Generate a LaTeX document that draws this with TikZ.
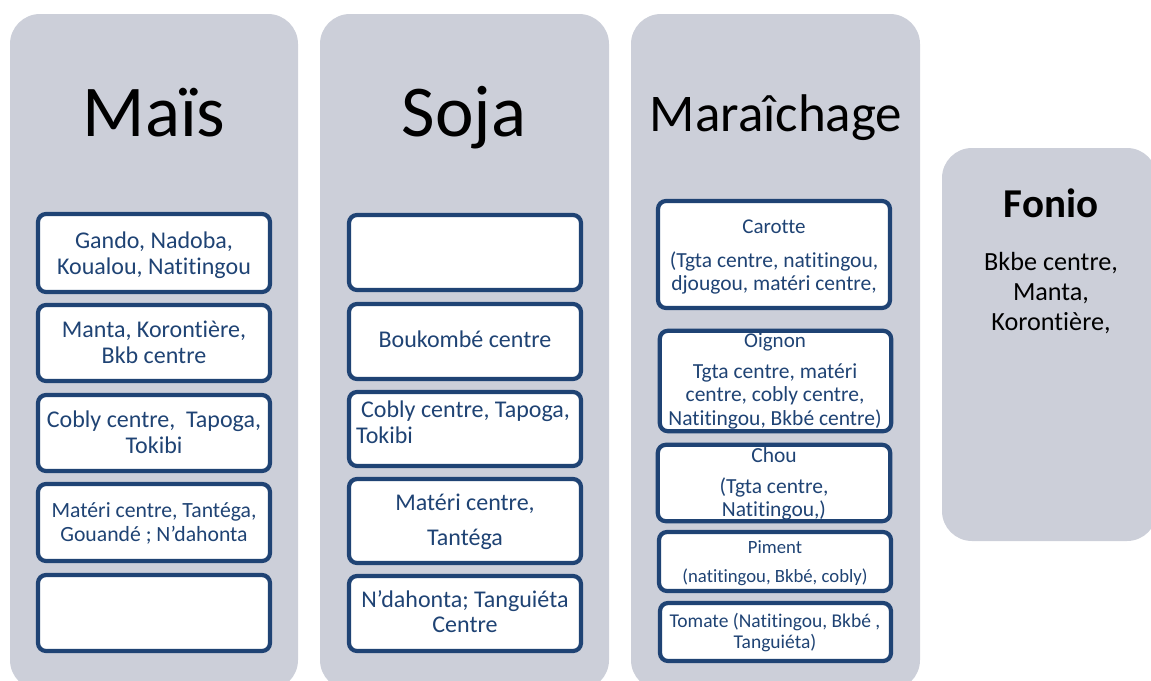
\documentclass[tikz,border=0pt]{standalone}
\usepackage{fontspec}
\setmainfont{Carlito}[Ligatures=NoCommon]
\definecolor{panelc}{RGB}{204,207,217}
\definecolor{boxc}{RGB}{31,67,116}
\definecolor{txtc}{RGB}{31,67,116}
\begin{document}
\begin{tikzpicture}[x=1pt,y=-1pt,
  panel/.style={fill=panelc, rounded corners=30pt},
  ibox/.style={draw=boxc, line width=4.2pt, fill=white, rounded corners=8pt, inner sep=0pt},
  iboxfill/.style={fill=white, rounded corners=8pt, inner sep=0pt},
  iborder/.style={draw=boxc, line width=4.2pt, rounded corners=8pt},
  title/.style={anchor=base, inner sep=0pt, text=black},
  tl/.style={anchor=base, inner sep=0pt, text=txtc, font=\fontsize{24}{28}\selectfont},
  ts/.style={anchor=base, inner sep=0pt, text=txtc, font=\fontsize{21.7}{25}\selectfont},
  tm/.style={anchor=base, inner sep=0pt, text=txtc, font=\fontsize{21.5}{25}\selectfont},
  tp/.style={anchor=base, inner sep=0pt, text=txtc, font=\fontsize{18.7}{22}\selectfont},
  fb/.style={anchor=base, inner sep=0pt, text=black, font=\fontsize{26.2}{30}\selectfont}
]
\useasboundingbox (0,0) rectangle (1151,680);

% panels
\path[panel] (10,14) rectangle (298,690);
\path[panel] (320,14) rectangle (609,690);
\path[panel] (631,14) rectangle (920,690);
\path[panel] (942,148) rectangle (1157,541);

% titles
\node[title, font=\fontsize{73}{80}\selectfont] (tmais) at (154,136) {Maïs};
\node[title, font=\fontsize{73}{80}\selectfont] (tsoja) at (464,136) {Soja};
\node[title, font=\fontsize{53}{60}\selectfont] (tmara) at (776,131) {Maraîchage};
\node[title, font=\bfseries\fontsize{41}{46}\selectfont] (tfonio) at (1051,217) {Fonio};
\node[fb] (f1) at (1051,270) {Bkbe centre,};
\node[fb] (f2) at (1051,300) {Manta,};
\node[fb] (f3) at (1051,330) {Korontière,};

% Maïs boxes
\node[ibox, minimum width=232pt, minimum height=78pt] (m1) at (154,253) {};
\node[ibox, minimum width=232pt, minimum height=76pt] (m2) at (154,343) {};
\node[ibox, minimum width=232pt, minimum height=76pt] (m3) at (154,433) {};
\node[ibox, minimum width=232pt, minimum height=77pt] (m4) at (154,522.5) {};
\node[ibox, minimum width=232pt, minimum height=76pt] (m5) at (154,613) {};

% Soja boxes
\node[ibox, minimum width=232pt, minimum height=75pt] (s1) at (465,252.5) {};
\node[ibox, minimum width=232pt, minimum height=75pt] (s2) at (465,341.5) {};
\node[ibox, minimum width=232pt, minimum height=74pt] (s3) at (465,429) {};
\node[ibox, minimum width=232pt, minimum height=84pt] (s4) at (465,521) {};
\node[ibox, minimum width=232pt, minimum height=75pt] (s5) at (465,613.5) {};

% Maraichage boxes
\node[ibox, minimum width=232pt, minimum height=107pt] (c1) at (774,254.5) {};
\node[iboxfill, minimum width=231pt, minimum height=100pt] (c2) at (775.5,381) {};
\node[iboxfill, minimum width=232pt, minimum height=76pt] (c3) at (774,483) {};
\node[ibox, minimum width=232pt, minimum height=59pt] (c4) at (775,561.5) {};
\node[ibox, minimum width=231pt, minimum height=58pt] (c5) at (775.5,632) {};

% Maïs texts
\node[tl] (m1a) at (154,248) {Gando, Nadoba,};
\node[tl] (m1b) at (154,274) {Koualou, Natitingou};
\node[tl] (m2a) at (154,337) {Manta, Korontière,};
\node[tl] (m2b) at (154,363) {Bkb centre};
\node[tl] (m3a) at (154,427) {Cobly centre,\ \ Tapoga,};
\node[tl] (m3b) at (154,453) {Tokibi};
\node[ts] (m4a) at (154,517) {Matéri centre, Tantéga,};
\node[ts] (m4b) at (154,541) {Gouandé ; N’dahonta};

% Soja texts
\node[tl] (s2a) at (465,347) {Boukombé centre};
\node[tl, anchor=base west] (s3a) at (361,417) {Cobly centre, Tapoga,};
\node[tl, anchor=base west] (s3b) at (356,443) {Tokibi};
\node[tl] (s4a) at (465,510) {Matéri centre,};
\node[tl] (s4b) at (465,545) {Tantéga};
\node[tl] (s5a) at (465,607) {N’dahonta; Tanguiéta};
\node[tl] (s5b) at (465,632) {Centre};

% Maraichage texts
\node[tm, font=\fontsize{21}{25}\selectfont] (c1a) at (774,233) {Carotte};
\node[tm] (c1b) at (774,267) {(Tgta centre, natitingou,};
\node[tm] (c1c) at (774,290) {djougou, matéri centre,};
\node[tm, font=\fontsize{21}{25}\selectfont] (c2a) at (775,347) {Oignon};
\node[tm] (c2b) at (775,378) {Tgta centre, matéri};
\node[tm] (c2c) at (775,401) {centre, cobly centre,};
\node[tm] (c2d) at (775,425) {Natitingou, Bkbé centre)};
\node[tm] (c3a) at (774,462) {Chou};
\node[tm] (c3b) at (774,493) {(Tgta centre,};
\node[tm] (c3c) at (774,516) {Natitingou,)};
\node[tp] (c4a) at (775,553) {Piment};
\node[tp] (c4b) at (775,582) {(natitingou, Bkbé, cobly)};
\node[tp, font=\fontsize{19.5}{23}\selectfont] (c5a) at (775,627) {Tomate (Natitingou, Bkbé ,};
\node[tp, font=\fontsize{19.5}{23}\selectfont] (c5b) at (775,648) {Tanguiéta)};

% borders drawn over overflowing text
\draw[iborder] (c2.south west) rectangle (c2.north east);
\draw[iborder] (c3.south west) rectangle (c3.north east);
\end{tikzpicture}
\end{document}
